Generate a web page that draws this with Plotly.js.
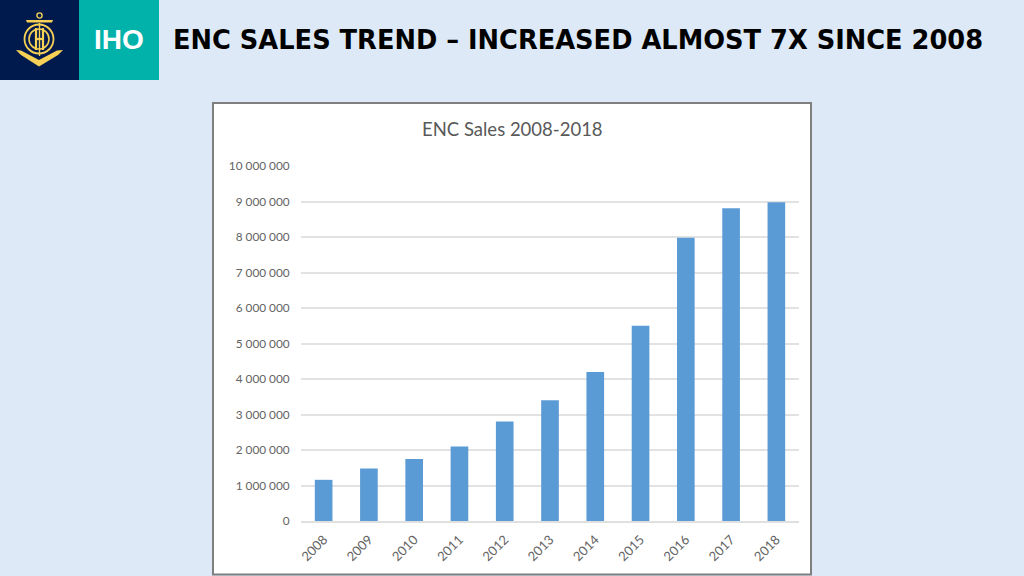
<!DOCTYPE html>
<html><head><meta charset="utf-8">
<script src="https://cdn.plot.ly/plotly-3.0.1.min.js"></script>
<style>html,body{margin:0;padding:0;background:#dde9f7}#c{width:1024px;height:576px}</style>
</head><body><div id="c"></div>
<script>
const years = ['2008','2009','2010','2011','2012','2013','2014','2015','2016','2017','2018'];
const sales = [1160000,1480000,1750000,2100000,2800000,3400000,4200000,5500000,7980000,8810000,8980000];
const chartTitle = 'ENC Sales 2008-2018';
const slideTitle = 'ENC SALES TREND – INCREASED ALMOST 7X SINCE 2008';
const W=1024,H=576;
const px=x=>x/W, py=y=>1-y/H;
const rect=(x0,y0,x1,y1,fill,line,lw)=>({type:'rect',xref:'paper',yref:'paper',layer:'below',
  x0:px(x0),x1:px(x1),y0:py(y0),y1:py(y1),fillcolor:fill,line:{color:line||fill,width:lw||0}});
const gold='#f6d155';
const poly=(pts,fill,lw,closed)=>({type:'path',xref:'paper',yref:'paper',layer:'above',
  path:pts.map((p,i)=>(i?'L':'M')+px(p[0])+','+py(p[1])).join(' ')+(closed===false?'':' Z'),
  fillcolor:closed===false?'rgba(0,0,0,0)':fill,line:{color:fill,width:lw||0}});
const circ=(cx,cy,r,lw)=>({type:'circle',xref:'paper',yref:'paper',layer:'above',
  x0:px(cx-r),x1:px(cx+r),y0:py(cy+r),y1:py(cy-r),fillcolor:'rgba(0,0,0,0)',line:{color:gold,width:lw}});
const shapes=[
  rect(0,0,79,80,'#001a4d'),
  rect(79,0,159,80,'#00b2a9'),
  rect(213,103,811,574.5,'#ffffff','#7f7f7f',2),
  // anchor emblem
  circ(39.5,15.5,2.6,1.4),
  poly([[26,20],[53,20],[52,22.5],[27,22.5]],gold),
  poly([[16,50],[21,50.5],[39,60],[57,50.5],[63,50],[58,55],[39,66.5],[21,55]],gold),
  circ(39,39,14.5,1.8),
  circ(39,39,10,1.6),
  poly([[36,28],[36,50]],gold,2.2,false),
  poly([[43,28],[43,50]],gold,2.2,false),
  poly([[36,39],[43,39]],gold,2.2,false),
  poly([[39.5,23],[39.5,56]],gold,1.4,false)
];
const yFont={family:'Lato, "Open Sans", sans-serif',size:11.8,color:'#636363'};
const xFont={family:'Lato, "Open Sans", sans-serif',size:13,color:'#636363'};
Plotly.newPlot('c',[{
  type:'bar',x:years,y:sales,marker:{color:'#5b9bd5',line:{width:0}},
  hoverinfo:'x+y'
}],{
  width:W,height:H,autosize:false,
  margin:{l:0,r:0,t:0,b:0},
  paper_bgcolor:'#dde9f7',plot_bgcolor:'rgba(0,0,0,0)',
  separators:'. ',bargap:0.61,showlegend:false,
  xaxis:{domain:[px(301),px(799)],type:'category',tickangle:-45,tickfont:xFont,
    showgrid:false,showline:true,linecolor:'#e0e0e0',linewidth:2,ticks:'outside',ticklen:4,tickcolor:'rgba(0,0,0,0)',automargin:false},
  yaxis:{domain:[py(521),py(166)],range:[0,10000000],tick0:0,dtick:1000000,tickformat:',d',
    tickfont:yFont,showgrid:true,gridcolor:'#e2e2e2',gridwidth:2,zeroline:false,showline:false,
    ticks:'outside',ticklen:8,tickcolor:'rgba(0,0,0,0)',automargin:false},
  shapes:shapes,
  annotations:[
    {xref:'paper',yref:'paper',x:px(512),y:py(129.5),xanchor:'center',yanchor:'middle',showarrow:false,
     text:chartTitle,font:{family:'Lato, "Open Sans", sans-serif',size:18.5,color:'#595959'}},
    {xref:'paper',yref:'paper',x:px(171),y:py(40),xanchor:'left',yanchor:'middle',showarrow:false,
     text:'<b>'+slideTitle+'</b>',font:{family:'"DejaVu Sans", sans-serif',size:25.7,color:'#000000'}},
    {xref:'paper',yref:'paper',x:px(118.5),y:py(39.5),xanchor:'center',yanchor:'middle',showarrow:false,
     text:'<b>IHO</b>',font:{family:'"Liberation Sans", Arial, sans-serif',size:28,color:'#ffffff'}}
  ]
},{displayModeBar:false,staticPlot:true});
</script></body></html>
